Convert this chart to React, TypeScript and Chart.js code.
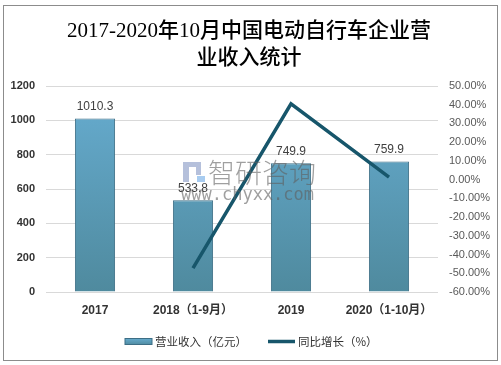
import React, { useEffect, useRef } from "react";
import { Chart, registerables } from "chart.js";

Chart.register(...registerables);

const categories = ["2017", "2018（1-9月）", "2019", "2020（1-10月）"];
const revenue = [1010.3, 533.8, 749.9, 759.9];
const growth = [null, -47.2, 40.5, 1.33];
const titleLines = ["2017-2020年10月中国电动自行车企业营", "业收入统计"];
const legendLabels = ["营业收入（亿元）", "同比增长（%）"];

const BAR_TOP = "#67add1";
const BAR_BOTTOM = "#4f8a9e";
const LINE_COLOR = "#17566b";

export default function App() {
  const ref = useRef<HTMLCanvasElement | null>(null);

  useEffect(() => {
    const canvas = ref.current;
    if (!canvas) return;

    const overlay = {
      id: "overlay",
      afterDatasetsDraw(chart: any) {
        const ctx = chart.ctx;
        const meta = chart.getDatasetMeta(0);
        ctx.save();
        ctx.font = "12px 'Liberation Sans', 'Noto Sans'";
        ctx.fillStyle = "#404040";
        ctx.textAlign = "center";
        ctx.textBaseline = "middle";
        meta.data.forEach((el: any, i: number) => {
          ctx.fillText(String(revenue[i]), el.x, el.y - 12);
        });
        // watermark
        ctx.fillStyle = "rgba(95,95,95,0.6)";
        ctx.font = "300 27px 'Noto Sans CJK SC'";
        ctx.textAlign = "left";
        ctx.fillText("智研咨询", 208, 173);
        ctx.font = "17px 'DejaVu Sans Mono'";
        ctx.fillText("www.chyxx.com", 181, 196);
        ctx.fillStyle = "rgba(120,140,190,0.55)";
        ctx.fillRect(183, 162, 6, 20);
        ctx.fillRect(189, 162, 12, 5);
        ctx.fillRect(196, 167, 5, 8);
        ctx.fillStyle = "rgba(110,170,230,0.6)";
        ctx.fillRect(197, 176, 8, 6);
        ctx.restore();
      },
      afterDraw(chart: any) {
        const ctx = chart.ctx;
        ctx.save();
        ctx.fillStyle = "#000";
        ctx.textAlign = "center";
        ctx.textBaseline = "middle";
        ctx.font = "500 21px 'Liberation Serif', 'Noto Sans CJK SC'";
        ctx.fillText(titleLines[0], 249, 31);
        ctx.fillText(titleLines[1], 249, 58);
        // legend
        ctx.font = "11.5px 'Noto Sans CJK SC'";
        ctx.textAlign = "left";
        const g = ctx.createLinearGradient(0, 338, 0, 345);
        g.addColorStop(0, BAR_TOP);
        g.addColorStop(1, BAR_BOTTOM);
        ctx.fillStyle = g;
        ctx.fillRect(125, 338.5, 27, 6);
        ctx.strokeStyle = "#3d6e85";
        ctx.lineWidth = 1;
        ctx.strokeRect(125, 338.5, 27, 6);
        ctx.fillStyle = "#333";
        ctx.fillText(legendLabels[0], 155, 341.5);
        ctx.strokeStyle = LINE_COLOR;
        ctx.lineWidth = 3.5;
        ctx.beginPath();
        ctx.moveTo(268, 341.5);
        ctx.lineTo(295, 341.5);
        ctx.stroke();
        ctx.fillText(legendLabels[1], 298, 341.5);
        ctx.restore();
      },
    };

    const chart = new Chart(canvas, {
      type: "bar",
      data: {
        labels: categories,
        datasets: [
          {
            type: "bar",
            label: legendLabels[0],
            data: revenue,
            yAxisID: "y",
            order: 1,
            backgroundColor: (c: any) => {
              const area = c.chart.chartArea;
              if (!area) return BAR_TOP;
              const gr = c.chart.ctx.createLinearGradient(0, area.top, 0, area.bottom);
              gr.addColorStop(0, BAR_TOP);
              gr.addColorStop(1, BAR_BOTTOM);
              return gr;
            },
            borderColor: "#3d6e85",
            borderWidth: 1,
            categoryPercentage: 1,
            barPercentage: 0.41,
          } as any,
          {
            type: "line",
            label: legendLabels[1],
            data: growth,
            yAxisID: "y1",
            order: 0,
            borderColor: LINE_COLOR,
            borderWidth: 3.5,
            pointRadius: 0,
            tension: 0,
            fill: false,
          } as any,
        ],
      },
      options: {
        animation: false,
        responsive: false,
        maintainAspectRatio: false,
        layout: { padding: { top: 86, bottom: 43, left: 0, right: 0 } },
        plugins: {
          legend: { display: false },
          title: { display: false },
          tooltip: { enabled: false },
        },
        scales: {
          x: {
            grid: { display: false, drawTicks: false },
            border: { display: false },
            ticks: {
              padding: 11,
              color: "#333",
              font: { family: "'Liberation Sans', 'Noto Sans CJK SC'", size: 12, weight: "bold" },
            },
            afterFit: (s: any) => { s.height = 30; },
          },
          y: {
            position: "left",
            min: 0,
            max: 1200,
            ticks: {
              stepSize: 200,
              padding: 11,
              color: "#333",
              font: { family: "'Liberation Sans'", size: 11, weight: "bold" },
              callback: (v: any) => String(v),
            },
            grid: { color: "#d9d9d9", drawTicks: false },
            border: { display: false },
            afterFit: (s: any) => { s.width = 46; },
          },
          y1: {
            position: "right",
            min: -60,
            max: 50,
            ticks: {
              stepSize: 10,
              padding: 11,
              color: "#595959",
              font: { family: "'Liberation Sans'", size: 11 },
              callback: (v: any) => Number(v).toFixed(2) + "%",
            },
            grid: { display: false, drawTicks: false },
            border: { display: false },
            afterFit: (s: any) => { s.width = 63; },
          },
        },
      } as any,
      plugins: [overlay],
    });
    return () => chart.destroy();
  }, []);

  return (
    <div style={{ position: "fixed", left: 0, top: 0, width: 501, height: 365, background: "#fff" }}>
      <canvas ref={ref} width={501} height={365} style={{ position: "absolute", left: 0, top: 0, width: 501, height: 365 }} />
      <div
        style={{
          position: "absolute",
          left: 3,
          top: 5,
          width: 493,
          height: 354,
          border: "1px solid #8c8c8c",
          pointerEvents: "none",
        }}
      />
    </div>
  );
}
